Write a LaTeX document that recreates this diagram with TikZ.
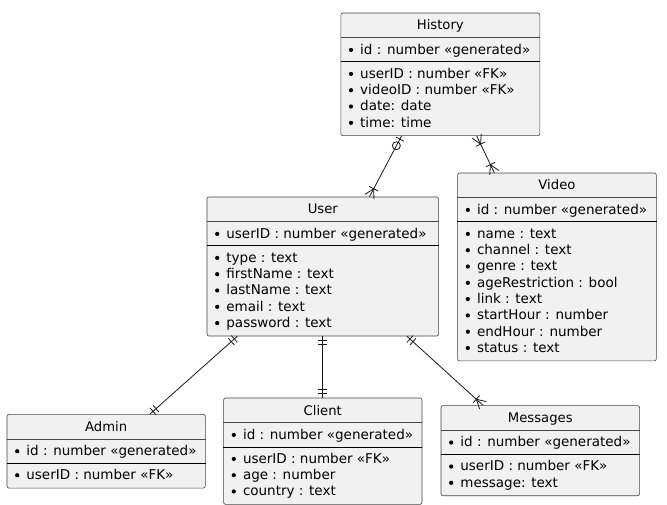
\documentclass[tikz,border=0pt]{standalone}
\usepackage{fontspec}
\setmainfont{DejaVu Sans}
\usetikzlibrary{calc}

\definecolor{boxfill}{HTML}{F1F1F1}
\definecolor{boxline}{HTML}{181818}

% entity: name, x, y, width, number of fields, title, key, fields
\newcommand{\entity}[8]{%
  \node[entity, minimum width=#4pt, minimum height={57.5pt+16.3pt*#5}] (#1) at (#2,#3) {};
  \node[etitle] (#1-title) at ([yshift=-17.3pt]#1.north) {#6};
  \draw[esep] ([yshift=-25pt]#1.north west) -- ([yshift=-25pt]#1.north east);
  \node[efield] (#1-key) at ([xshift=19.5pt,yshift=-41.6pt]#1.north west) {#7};
  \fill ([xshift=10.5pt,yshift=-37.2pt]#1.north west) circle[radius=2.1pt];
  \draw[ekey] ([yshift=-49.3pt]#1.north west) -- ([yshift=-49.3pt]#1.north east);
  \foreach \f [count=\i from 0] in {#8} {
    \node[efield] (#1-f\i) at ([xshift=19.5pt,yshift={-65.6pt-16.3pt*\i}]#1.north west) {\f};
    \fill ([xshift=10.5pt,yshift={-61.2pt-16.3pt*\i}]#1.north west) circle[radius=2.1pt];
  }}

% exactly one
\newcommand{\onlyone}[2]{%
  \draw[rel] ($(#1)!4pt!(#2)!4.5pt!90:(#2)$) -- ($(#1)!4pt!(#2)!4.5pt!-90:(#2)$);
  \draw[rel] ($(#1)!8pt!(#2)!4.5pt!90:(#2)$) -- ($(#1)!8pt!(#2)!4.5pt!-90:(#2)$);}

% one or many
\newcommand{\manyone}[2]{%
  \draw[rel] ($(#1)!5pt!90:(#2)$) -- ($(#1)!9pt!(#2)$) -- ($(#1)!5pt!-90:(#2)$);
  \draw[rel] ($(#1)!9pt!(#2)!5pt!90:(#2)$) -- ($(#1)!9pt!(#2)!5pt!-90:(#2)$);}

% zero or one
\newcommand{\zeroone}[2]{%
  \draw[rel] ($(#1)!3.5pt!(#2)!4.5pt!90:(#2)$) -- ($(#1)!3.5pt!(#2)!4.5pt!-90:(#2)$);
  \draw[rel] ($(#1)!11pt!(#2)$) circle[radius=4pt];}

\begin{document}
\begin{tikzpicture}[x=1pt, y=-1pt,
	entity/.style={draw=boxline!80, fill=boxfill, line width=0.6pt, rounded corners=2pt, anchor=north west, inner sep=0pt},
	etitle/.style={anchor=base, inner sep=0pt, font=\fontsize{13.2}{15}\selectfont},
	efield/.style={anchor=base west, inner sep=0pt, font=\fontsize{13.5}{16}\selectfont},
	esep/.style={draw=boxline!80, line width=0.6pt},
	ekey/.style={draw=black, line width=1pt},
	rel/.style={draw=boxline, line width=0.8pt}]
	\useasboundingbox (0,0) rectangle (667,505);

	% Entities
	\entity{history}{340.5}{12.7}{199}{4}{History}{id : number «generated»}%
		{userID : number «FK», videoID : number «FK», date: date, time: time}
	\entity{video}{457.3}{172.7}{198.7}{8}{Video}{id : number «generated»}%
		{name : text, channel : text, genre : text, ageRestriction : bool, link : text, startHour : number, endHour : number, status : text}
	\entity{user}{206.7}{196.7}{231.6}{5}{User}{userID : number «generated»}%
		{type : text, firstName : text, lastName : text, email : text, password : text}
	\entity{admin}{6.7}{414}{198.3}{1}{Admin}{id : number «generated»}%
		{userID : number «FK»}
	\entity{client}{223.3}{397.7}{198.4}{3}{Client}{id : number «generated»}%
		{userID : number «FK», age : number, country : text}
	\entity{messages}{440.7}{405.3}{198.6}{2}{Messages}{id : number «generated»}%
		{userID : number «FK», message: text}

	% History -- User
	\coordinate (hu) at ([xshift=61pt]history.south west);
	\coordinate (uh) at ([xshift=162.8pt]user.north west);
	\draw[rel] (hu) -- (uh);
	\zeroone{hu}{uh}
	\manyone{uh}{hu}

	% History -- Video
	\coordinate (hv) at ([xshift=136.2pt]history.south west);
	\coordinate (vh) at ([xshift=37pt]video.north west);
	\draw[rel] (hv) -- (vh);
	\manyone{hv}{vh}
	\manyone{vh}{hv}

	% User -- Admin
	\coordinate (ua) at ([xshift=30.6pt]user.south west);
	\coordinate (au) at ([xshift=143.3pt]admin.north west);
	\draw[rel] (ua) -- (au);
	\onlyone{ua}{au}
	\onlyone{au}{ua}

	% User -- Client
	\coordinate (uc) at ([xshift=115.3pt]user.south west);
	\coordinate (cu) at ([xshift=98.7pt]client.north west);
	\draw[rel] (uc) -- (cu);
	\onlyone{uc}{cu}
	\onlyone{cu}{uc}

	% User -- Messages
	\coordinate (um) at ([xshift=200.3pt]user.south west);
	\coordinate (mu) at ([xshift=42.3pt]messages.north west);
	\draw[rel] (um) -- (mu);
	\onlyone{um}{mu}
	\manyone{mu}{um}
\end{tikzpicture}
\end{document}
